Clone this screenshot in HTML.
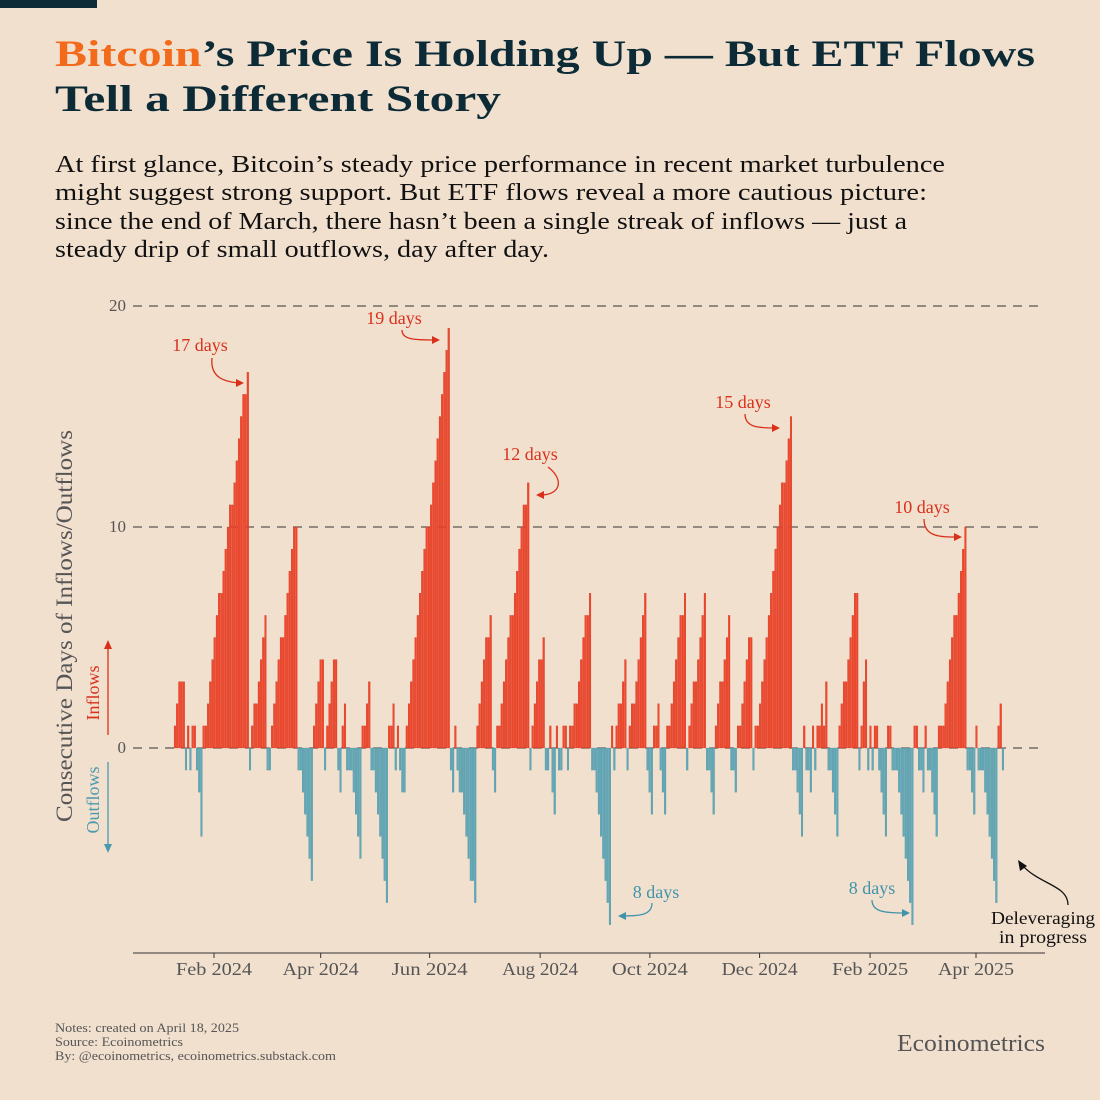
<!DOCTYPE html>
<html><head><meta charset="utf-8"><style>
html,body{margin:0;padding:0;background:#f2e0cf;}
svg{display:block;}
text{font-family:"Liberation Serif","DejaVu Serif",serif;}
</style></head><body>
<svg id="chart" width="1100" height="1100" viewBox="0 0 1100 1100" xmlns="http://www.w3.org/2000/svg">
<rect x="0" y="0" width="1100" height="1100" fill="#f2e0cf"/>
<rect x="0" y="0" width="97" height="8" fill="#0d2b36"/>
<text x="55" y="66" font-family="DejaVu Serif, serif" font-weight="bold" font-size="37" fill="#0d2b36" textLength="980" lengthAdjust="spacingAndGlyphs"><tspan fill="#f26a1b">Bitcoin</tspan>’s Price Is Holding Up — But ETF Flows</text>
<text x="55" y="111" font-family="DejaVu Serif, serif" font-weight="bold" font-size="37" fill="#0d2b36" textLength="446" lengthAdjust="spacingAndGlyphs">Tell a Different Story</text>
<g font-size="24.5" fill="#111">
<text x="55" y="172" textLength="890" lengthAdjust="spacingAndGlyphs">At first glance, Bitcoin’s steady price performance in recent market turbulence</text>
<text x="55" y="200" textLength="872" lengthAdjust="spacingAndGlyphs">might suggest strong support. But ETF flows reveal a more cautious picture:</text>
<text x="55" y="229" textLength="852" lengthAdjust="spacingAndGlyphs">since the end of March, there hasn’t been a single streak of inflows — just a</text>
<text x="55" y="257" textLength="494" lengthAdjust="spacingAndGlyphs">steady drip of small outflows, day after day.</text>
</g>
<g id="grid"></g>
<g id="bars"></g>
<g id="axes"></g>
<text transform="translate(72,626) rotate(-90)" text-anchor="middle" font-size="23" fill="#555" textLength="392" lengthAdjust="spacingAndGlyphs">Consecutive Days of Inflows/Outflows</text>
<text transform="translate(99,693) rotate(-90)" text-anchor="middle" font-size="18" fill="#d9301a">Inflows</text>
<line x1="108" y1="735" x2="108" y2="645" stroke="#d9301a" stroke-width="1.3"/>
<path d="M104,649 L108,640 L112,649 Z" fill="#d9301a"/>
<text transform="translate(99,800) rotate(-90)" text-anchor="middle" font-size="18" fill="#4a9aae">Outflows</text>
<line x1="108" y1="762" x2="108" y2="848" stroke="#4a9aae" stroke-width="1.3"/>
<path d="M104,844 L108,853 L112,844 Z" fill="#4a9aae"/>
<g font-size="18" fill="none">
<text x="200" y="351" text-anchor="middle" fill="#d9301a">17 days</text>
<path d="M212,358 C210,378 225,382 240,383" stroke="#d9301a" stroke-width="1.3"/><path d="M236,379 L244,383 L236,387 Z" fill="#d9301a"/>
<text x="394" y="324" text-anchor="middle" fill="#d9301a">19 days</text>
<path d="M402,330 C402,340 415,340 436,340" stroke="#d9301a" stroke-width="1.3"/><path d="M432,336 L440,340 L432,344 Z" fill="#d9301a"/>
<text x="530" y="460" text-anchor="middle" fill="#d9301a">12 days</text>
<path d="M548,467 C565,480 560,495 541,495" stroke="#d9301a" stroke-width="1.3"/><path d="M544,491 L536,495 L544,499 Z" fill="#d9301a"/>
<text x="743" y="408" text-anchor="middle" fill="#d9301a">15 days</text>
<path d="M745,414 C745,428 760,428 776,428" stroke="#d9301a" stroke-width="1.3"/><path d="M772,424 L780,428 L772,432 Z" fill="#d9301a"/>
<text x="922" y="513" text-anchor="middle" fill="#d9301a">10 days</text>
<path d="M924,519 C924,537 940,537 958,537" stroke="#d9301a" stroke-width="1.3"/><path d="M954,533 L962,537 L954,541 Z" fill="#d9301a"/>
<text x="656" y="898" text-anchor="middle" fill="#3f94aa">8 days</text>
<path d="M652,903 C652,915 640,916 622,916" stroke="#3f94aa" stroke-width="1.3"/><path d="M626,912 L618,916 L626,920 Z" fill="#3f94aa"/>
<text x="872" y="894" text-anchor="middle" fill="#3f94aa">8 days</text>
<path d="M872,900 C872,912 885,913 906,913" stroke="#3f94aa" stroke-width="1.3"/><path d="M902,909 L910,913 L902,917 Z" fill="#3f94aa"/>
<text x="1043" y="924" text-anchor="middle" fill="#111" textLength="104" lengthAdjust="spacingAndGlyphs">Deleveraging</text>
<text x="1043" y="943" text-anchor="middle" fill="#111" textLength="88" lengthAdjust="spacingAndGlyphs">in progress</text>
<path d="M1068,905 C1068,885 1040,885 1022,865" stroke="#111" stroke-width="1.3"/><path d="M1020,871 L1018,860 L1027,866 Z" fill="#111"/>
</g>
<g font-size="13" fill="#555">
<text x="55" y="1032" textLength="184" lengthAdjust="spacingAndGlyphs">Notes: created on April 18, 2025</text>
<text x="55" y="1046" textLength="128" lengthAdjust="spacingAndGlyphs">Source: Ecoinometrics</text>
<text x="55" y="1060" textLength="281" lengthAdjust="spacingAndGlyphs">By: @ecoinometrics, ecoinometrics.substack.com</text>
</g>
<text x="1045" y="1051" text-anchor="end" font-size="24" fill="#555" textLength="148" lengthAdjust="spacingAndGlyphs">Ecoinometrics</text>
</svg>
<script>
const yTicks = [0, 10, 20];
const xTickLabels = ["Feb 2024","Apr 2024","Jun 2024","Aug 2024","Oct 2024","Dec 2024","Feb 2025","Apr 2025"];
const xTickPos = [0.0, 0.14, 0.283, 0.428, 0.572, 0.716, 0.861, 1.0];
const streakValues = [
1,2,3,3,3,-1,1,-1,1,1,-1,-2,-4,
1,1,2,3,4,5,6,7,7,8,9,10,11,11,12,13,14,15,16,16,17,
-1,1,2,2,3,4,5,6,-1,-1,1,2,3,4,5,5,6,7,8,9,10,10,-1,-1,-2,-3,-4,-5,-6,
1,2,3,4,4,-1,1,2,3,4,4,-1,-2,1,2,-1,-1,-1,-2,-3,-4,-5,1,1,2,3,-1,-1,-2,-3,-4,-5,-6,-7,1,1,2,-1,1,-1,-2,-2,
1,2,3,4,5,6,7,8,9,10,10,11,12,13,14,15,16,17,18,19,
-1,-2,1,-1,-2,-2,-3,-4,-5,-6,-6,-7,1,2,3,4,5,5,6,-1,-2,1,1,2,3,4,5,6,6,7,8,9,10,11,11,12,
-1,1,2,3,4,4,5,-1,-1,1,-2,-3,1,-1,-1,1,1,-1,1,1,2,2,3,4,5,6,6,7,-1,-1,-2,-3,-4,-5,-6,-7,-8,1,-1,1,2,2,3,4,
-1,1,2,2,3,4,5,6,7,-1,-2,-3,1,1,2,-1,-2,-3,1,1,2,3,4,5,6,6,7,-1,1,2,3,3,4,5,6,7,-1,-1,-2,-3,1,2,3,3,4,5,6,-1,-1,-2,1,1,2,3,4,5,5,-1,1,1,2,3,4,5,6,7,8,9,10,11,12,12,13,14,15,
-1,-1,-2,-3,-4,1,-1,-1,-2,1,-1,1,1,2,1,3,-1,-1,-2,-3,-4,1,2,3,3,4,5,6,7,7,-1,1,3,4,-1,1,-1,1,1,-1,-2,-3,-4,1,1,-1,-1,-1,-2,-3,-4,-5,-6,-7,-8,1,1,-1,-1,-2,1,-1,-1,-2,-3,-4,1,1,1,2,3,4,5,6,6,7,8,9,10,-1,-1,-2,-3,1,-1,-1,-1,-2,-3,-4,-5,-6,-7,1,2,-1
];
const NS = "http://www.w3.org/2000/svg";
const y = v => 748 - v * 22.1;
const x = i => 175 + i * (828 / (streakValues.length - 1));
const xt = f => 214 + f * 762;
function mk(tag, attrs, parent){const e=document.createElementNS(NS,tag);for(const k in attrs)e.setAttribute(k,attrs[k]);parent.appendChild(e);return e;}
const grid=document.getElementById('grid'), bars=document.getElementById('bars'), axes=document.getElementById('axes');
yTicks.forEach(t=>{
  const l=mk('line',{x1:133,x2:1042,y1:y(t),y2:y(t),stroke:'#333','stroke-width':1.1,'stroke-dasharray':'9,7'},grid);
  
  
  const tx=mk('text',{x:126,y:y(t)+5,'text-anchor':'end','font-size':17,fill:'#555'},axes);
  tx.textContent=t;
  
  
});
const w = 828/(streakValues.length-1);
streakValues.forEach((v,i)=>{
  const top=Math.min(y(v),y(0)), h=Math.abs(y(v)-y(0));
  const r=mk('rect',{x:x(i)-w/2+0.2,y:top,width:Math.max(w-0.5,0.8),height:h,fill:v>0?'#f4472b':'#5fa9ba',stroke:v>0?'#c9301b':'#4a8d9c','stroke-width':0.3},bars);
  
  
});
const ax=mk('line',{x1:133,x2:1045,y1:953,y2:953,stroke:'#333','stroke-width':1},axes);


xTickLabels.forEach((lab,i)=>{
  const px=xt(xTickPos[i]);
  const tk=mk('line',{x1:px,x2:px,y1:953,y2:958,stroke:'#333'},axes);
  
  
  const tx=mk('text',{x:px,y:975,'text-anchor':'middle','font-size':18,fill:'#555',textLength:76,lengthAdjust:'spacingAndGlyphs'},axes);
  tx.textContent=lab;
  
  
});
</script>
</body></html>
